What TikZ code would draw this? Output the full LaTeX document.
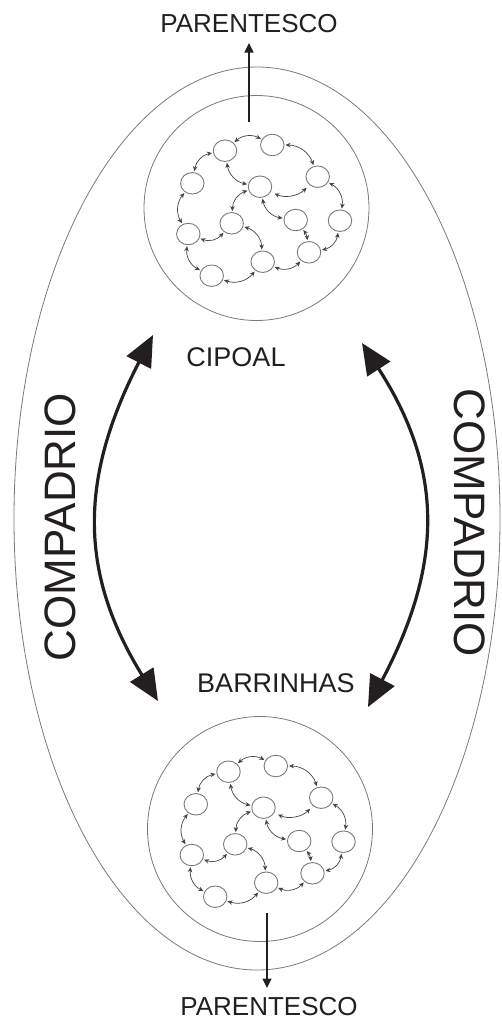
\documentclass[tikz,border=0pt]{standalone}
\usepackage{fontspec}
\setmainfont{Liberation Sans}
\usetikzlibrary{arrows.meta,shapes.geometric}
\definecolor{ink}{HTML}{231F20}
\definecolor{rim}{HTML}{7A7A7A}

% A kinship cluster: twelve households tied by reciprocal links.
% #1 is the prefix used for the node names.
\newcommand\kingroup[1]{%
  \node[kin] (#1-1)  at (-31.5,-57.3) {};
  \node[kin] (#1-2)  at ( 15.8,-63.0) {};
  \node[kin] (#1-3)  at (-64.2,-24.7) {};
  \node[kin] (#1-4)  at (  3.5,-21.3) {};
  \node[kin] (#1-5)  at ( 61.2,-31.3) {};
  \node[kin] (#1-6)  at (-24.8, 15.3) {};
  \node[kin] (#1-7)  at ( 39.2, 12.0) {};
  \node[kin] (#1-8)  at ( 83.5, 12.7) {};
  \node[kin] (#1-9)  at (-68.2, 26.0) {};
  \node[kin] (#1-10) at (  6.2, 53.7) {};
  \node[kin] (#1-11) at ( 52.5, 44.3) {};
  \node[kin] (#1-12) at (-44.8, 67.7) {};
  % outer ring of ties
  \draw[tie] (#1-1)  to[bend left=35] (#1-2);
  \draw[tie] (#1-2)  to[bend left=35] (#1-5);
  \draw[tie] (#1-5)  to[bend left=35] (#1-8);
  \draw[tie] (#1-8)  to[bend left=35] (#1-11);
  \draw[tie] (#1-11) to[bend left=35] (#1-10);
  \draw[tie] (#1-10) to[bend left=35] (#1-12);
  \draw[tie] (#1-12) to[bend left=35] (#1-9);
  \draw[tie] (#1-9)  to[bend left=35] (#1-3);
  \draw[tie] (#1-3)  to[bend left=35] (#1-1);
  % inner ties
  \draw[tie] (#1-1)  to[bend right=35] (#1-4);
  \draw[tie] (#1-4)  to[bend right=35] (#1-6);
  \draw[tie] (#1-6)  to[bend left=35]  (#1-9);
  \draw[tie] (#1-6)  to[bend left=35]  (#1-10);
  \draw[tie] (#1-4)  to[bend right=35] (#1-7);
  \draw[tie,shorten <=3pt,shorten >=3pt] (#1-5) to[bend left=35] (#1-4);
  \draw[tie] (#1-7)  to[bend left=15]  (#1-11);
}

\begin{document}
\begin{tikzpicture}[x=1pt,y=-1pt,
  kin/.style={ellipse,draw=rim,line width=0.9pt,minimum width=23.5pt,
    minimum height=21.5pt,inner sep=0pt,outer sep=1.5pt},
  tie/.style={draw=ink!85,line width=0.7pt,
    {Stealth[length=5pt,width=4.5pt]}-{Stealth[length=5pt,width=4.5pt]}},
  ring/.style={draw=rim,line width=0.8pt},
  village/.style={circle,ring,minimum size=225pt,inner sep=0pt},
  txt/.style={text=ink,inner sep=0pt,font=\fontsize{27}{27}\selectfont},
  bigtxt/.style={text=ink,inner sep=0pt,font=\fontsize{44}{44}\selectfont},
  kinarrow/.style={draw=ink,line width=1.1pt,-{Triangle[length=9.5pt,width=9pt]}},
  compadrio/.style={draw=ink,line width=3.2pt,
    {Triangle[length=31pt,width=27pt]}-{Triangle[length=31pt,width=27pt]}}]
\useasboundingbox (0,0) rectangle (502,1021);

% the whole community
\draw[ring] (257,518.5) ellipse [x radius=243, y radius=451.5];

% the two villages
\node[village] (cipoalc) at (256.5,208) {};
\node[village] (barrc)   at (260,829) {};
\begin{scope}[shift={(256.5,208)}]
  \kingroup{t}
\end{scope}
\begin{scope}[shift={(260,829)}]
  \kingroup{b}
\end{scope}

% labels
\node[txt] (cipoal) at (236,357) {CIPOAL};
\node[txt] (barr)   at (276,683) {BARRINHAS};
\node[txt,font=\fontsize{26}{26}\selectfont] (partop) at (249,23.5) {PARENTESCO};
\node[txt,font=\fontsize{26}{26}\selectfont] (parbot) at (269,1007) {PARENTESCO};
\node[bigtxt,rotate=90]  (compl) at (60,527) {COMPADRIO};
\node[bigtxt,rotate=-90] (compr) at (470,523) {COMPADRIO};

% kinship leading out of each village
\coordinate (kt)    at (249,122);
\coordinate (kttip) at (249,43);
\coordinate (kb)    at (267,913);
\coordinate (kbtip) at (267,988);
\draw[kinarrow] (kt) -- (kttip);
\draw[kinarrow] (kb) -- (kbtip);

% compadrio ties between the villages
\coordinate (la) at (153,335);
\coordinate (lb) at (158,701);
\coordinate (ra) at (362,343);
\coordinate (rb) at (368,707);
\draw[compadrio] (la) .. controls (76.5,483) and (81.5,577) .. (lb);
\draw[compadrio] (ra) .. controls (443.8,469.6) and (443.3,563.9) .. (rb);
\end{tikzpicture}
\end{document}
